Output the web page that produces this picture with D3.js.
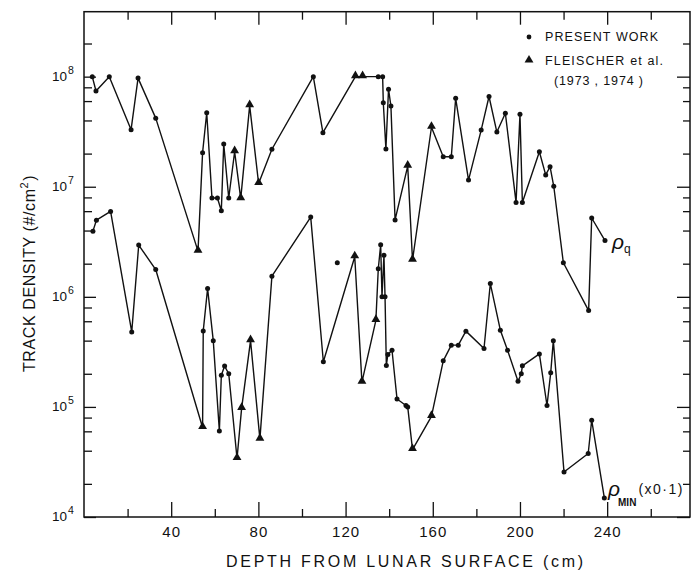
<!DOCTYPE html>
<html>
<head>
<meta charset="utf-8">
<script src="https://cdn.jsdelivr.net/npm/d3@7"></script>
<style>
  html, body { margin: 0; padding: 0; background: #fff; }
  svg { display: block; }
  text { font-family: "Liberation Sans", Arial, sans-serif; fill: #111; }
</style>
</head>
<body>
<svg id="chart" width="693" height="577"></svg>
<script>
// ---------- DATA ----------
// Upper series: rho_q
const depthQ = [3.8, 5.5, 11.6, 21.6, 24.8, 32.9, 52.3, 54.4, 56.3, 58.7, 61.2, 63.0, 64.1, 66.4, 69.1, 71.9, 76.0, 80.1, 86.2,
  105.2, 109.6, 124.5, 127.8, 135.0, 137.0, 137.3, 138.5, 139.7, 140.8, 142.7, 148.5, 150.7, 159.4, 164.8, 168.5, 170.5,
  176.4, 182.2, 185.8, 189.4, 193.3, 198.2, 200.0, 201.1, 208.9, 211.8, 213.8, 215.5, 219.9, 231.5, 232.9, 239.0];
const rhoQ = [1.0e8, 7.4e7, 1.0e8, 3.3e7, 9.7e7, 4.2e7, 2.6e6, 2.04e7, 4.7e7, 7.9e6, 7.9e6, 6.05e6, 2.44e7, 7.9e6, 2.08e7, 7.8e6, 5.45e7, 1.07e7, 2.19e7,
  1.0e8, 3.1e7, 1.0e8, 1.0e8, 1.0e8, 1.0e8, 5.8e7, 2.2e7, 7.7e7, 5.4e7, 5.0e6, 1.54e7, 2.15e6, 3.47e7, 1.87e7, 1.87e7, 6.35e7,
  1.15e7, 3.27e7, 6.6e7, 3.14e7, 4.65e7, 7.2e6, 4.55e7, 7.2e6, 2.08e7, 1.28e7, 1.52e7, 1.01e7, 2.04e6, 7.5e5, 5.2e6, 3.24e6];
// source: "P" = present work (dot), "F" = Fleischer et al. (triangle)
const srcQ = ["P","P","P","P","P","P","F","P","P","P","P","P","P","P","F","F","F","F","P",
  "P","P","F","F","P","P","P","P","P","P","P","F","F","F","P","P","P",
  "P","P","P","P","P","P","P","P","P","P","P","P","P","P","P","P"];

// Lower series: rho_MIN (x0.1)
const depthMin = [4.1, 5.7, 12.2, 21.9, 25.1, 32.9, 54.4, 54.7, 56.7, 59.3, 62.1, 63.0, 64.5, 66.4, 70.2, 72.3, 76.4, 80.7, 86.2,
  104.0, 109.8, 124.2, 127.5, 133.9, 135.0, 136.1, 136.7, 137.6, 138.1, 138.7, 139.4, 141.3, 143.6, 147.7, 148.5, 150.7, 159.4,
  164.8, 168.5, 171.7, 175.2, 183.5, 186.4, 191.0, 194.3, 199.1, 200.6, 201.1, 208.9, 212.4, 214.1, 215.3, 220.2, 231.3, 232.9, 238.7];
const rhoMin = [3.95e6, 4.97e6, 5.97e6, 4.8e5, 2.95e6, 1.77e6, 6.5e4, 4.9e5, 1.19e6, 4.0e5, 6.05e4, 1.94e5, 2.35e5, 2.0e5, 3.4e4, 9.7e4, 4.0e5, 5.1e4, 1.54e6,
  5.3e6, 2.57e5, 2.31e6, 1.68e5, 6.1e5, 1.8e6, 2.97e6, 1.0e6, 2.38e6, 1.0e6, 2.38e5, 3.0e5, 3.27e5, 1.18e5, 1.03e5, 1.0e5, 4.1e4, 8.2e4,
  2.62e5, 3.64e5, 3.64e5, 4.88e5, 3.39e5, 1.32e6, 4.98e5, 3.27e5, 1.71e5, 2.0e5, 2.36e5, 3.03e5, 1.03e5, 2.04e5, 4.0e5, 2.56e4, 3.77e4, 7.57e4, 1.49e4];
const srcMin = ["P","P","P","P","P","P","F","P","P","P","P","P","P","P","F","F","F","F","P",
  "P","P","F","F","F","P","P","P","P","P","P","P","P","P","P","P","F","F",
  "P","P","P","P","P","P","P","P","P","P","P","P","P","P","P","P","P","P","P"];

// isolated (unconnected) point
const isoDepth = [116.2];
const isoRho = [2.04e6];

// axis ticks
const xMajorTicks = [40, 80, 120, 160, 200, 240];
const xMinorTicks = [20, 60, 100, 140, 180, 220, 260];
const yDecades = [1e4, 1e5, 1e6, 1e7, 1e8];
const yExponents = ["4", "5", "6", "7", "8"];
const yMinorTicks = [2e4,4e4,6e4,8e4, 2e5,4e5,6e5,8e5, 2e6,4e6,6e6,8e6, 2e7,4e7,6e7,8e7, 2e8];

const legendLabels = ["PRESENT WORK", "FLEISCHER et al.", "(1973 , 1974 )"];

(function () {
// ---------- SCALES ----------
const svg = d3.select("#chart");
const pL = 84, pR = 690, pT = 11.7, pB = 517;
const x = d3.scaleLinear().domain([0, 278]).range([pL, pR]);
const y = d3.scaleLog().domain([1e4, Math.pow(10, 8.59)]).range([pB, pT]);

// ---------- AXES ----------
function styleAxis(g) {
  g.select(".domain").remove();
  g.selectAll(".tick line").attr("stroke", "#111").attr("stroke-width", 1.3);
}
// bottom
svg.append("g").attr("transform", `translate(0,${pB})`)
  .call(d3.axisBottom(x).tickValues(xMajorTicks).tickSizeInner(-15).tickSizeOuter(0).tickFormat(d3.format("d")))
  .call(styleAxis)
  .call(g => g.selectAll("text").attr("y", 20).attr("dy", 0)
     .style("font-size", "15px").style("letter-spacing", "1px").attr("fill", "#111")
     .style("font-family", "'Liberation Sans', Arial, sans-serif"));
svg.append("g").attr("transform", `translate(0,${pB})`)
  .call(d3.axisBottom(x).tickValues(xMinorTicks).tickSizeInner(-8).tickSizeOuter(0).tickFormat(""))
  .call(styleAxis);
// top
svg.append("g").attr("transform", `translate(0,${pT})`)
  .call(d3.axisTop(x).tickValues(xMajorTicks).tickSizeInner(-13).tickSizeOuter(0).tickFormat(""))
  .call(styleAxis);
svg.append("g").attr("transform", `translate(0,${pT})`)
  .call(d3.axisTop(x).tickValues(xMinorTicks).tickSizeInner(-8).tickSizeOuter(0).tickFormat(""))
  .call(styleAxis);
// left
svg.append("g").attr("transform", `translate(${pL},0)`)
  .call(d3.axisLeft(y).tickValues(yDecades).tickSizeInner(-12).tickSizeOuter(0).tickFormat(""))
  .call(styleAxis);
svg.append("g").attr("transform", `translate(${pL},0)`)
  .call(d3.axisLeft(y).tickValues(yMinorTicks).tickSizeInner(-8).tickSizeOuter(0).tickFormat(""))
  .call(styleAxis);
// right
svg.append("g").attr("transform", `translate(${pR},0)`)
  .call(d3.axisRight(y).tickValues(yDecades).tickSizeInner(-13).tickSizeOuter(0).tickFormat(""))
  .call(styleAxis);
svg.append("g").attr("transform", `translate(${pR},0)`)
  .call(d3.axisRight(y).tickValues(yMinorTicks).tickSizeInner(-7).tickSizeOuter(0).tickFormat(""))
  .call(styleAxis);

// frame
svg.append("rect").attr("x", pL).attr("y", pT).attr("width", pR - pL).attr("height", pB - pT)
  .attr("fill", "none").attr("stroke", "#111").attr("stroke-width", 1.5);

// y tick labels 10^n
yDecades.forEach((v, i) => {
  const t = svg.append("text").attr("x", 52).attr("y", y(v) + 4);
  t.append("tspan").text("10").style("font-size", "13.5px");
  t.append("tspan").text(yExponents[i]).attr("dy", -7).attr("dx", 1).style("font-size", "10.5px");
});

// axis titles
svg.append("text").attr("x", 226).attr("y", 567)
  .attr("textLength", 357).attr("lengthAdjust", "spacing")
  .style("font-size", "16px").text("DEPTH FROM LUNAR SURFACE (cm)");

const yt = svg.append("text").attr("transform", "translate(35,372) rotate(-90)")
  .attr("x", 0).attr("y", 0).style("font-size", "16px").style("letter-spacing", "0.6px");
yt.append("tspan").text("TRACK DENSITY (#/cm");
yt.append("tspan").text("2").attr("dy", -7).style("font-size", "11px");
yt.append("tspan").text(")").attr("dy", 7).attr("dx", 1);

// ---------- SERIES ----------
const line = d3.line().x(d => x(d[0])).y(d => y(d[1]));
const qData = depthQ.map((d, i) => [d, rhoQ[i], srcQ[i]]);
const mData = depthMin.map((d, i) => [d, rhoMin[i], srcMin[i]]);
const isoData = isoDepth.map((d, i) => [d, isoRho[i], "P"]);

[qData, mData].forEach(data => {
  svg.append("path").datum(data).attr("d", line)
    .attr("fill", "none").attr("stroke", "#111").attr("stroke-width", 1.4).attr("stroke-linejoin", "round");
});

const tri = d3.symbol().type(d3.symbolTriangle).size(34);
function drawMarks(data) {
  const g = svg.append("g");
  g.selectAll("circle").data(data.filter(d => d[2] === "P")).join("circle")
    .attr("cx", d => x(d[0])).attr("cy", d => y(d[1])).attr("r", 2.5).attr("fill", "#111");
  g.selectAll("path").data(data.filter(d => d[2] === "F")).join("path")
    .attr("d", tri).attr("transform", d => `translate(${x(d[0])},${y(d[1]) - 1})`).attr("fill", "#111");
}
drawMarks(qData);
drawMarks(mData);
drawMarks(isoData);

// ---------- SERIES LABELS ----------
const lq = svg.append("text").attr("x", 612).attr("y", 249);
lq.append("tspan").text("ρ").style("font-size", "21px").style("font-style", "italic");
lq.append("tspan").text("q").attr("dy", 4).style("font-size", "12px");

const lm = svg.append("text").attr("x", 608).attr("y", 496);
lm.append("tspan").text("ρ").style("font-size", "21px").style("font-style", "italic");
lm.append("tspan").text("MIN").attr("dy", 10).attr("dx", -2).style("font-size", "10px").style("font-weight", "bold");
lm.append("tspan").text("(x0·1)").attr("dy", -12).attr("dx", 2).style("font-size", "14px").style("letter-spacing", "1.5px");

// ---------- LEGEND ----------
svg.append("circle").attr("cx", 529).attr("cy", 37).attr("r", 2.4).attr("fill", "#111");
svg.append("path").attr("d", tri).attr("transform", "translate(529,60)").attr("fill", "#111");
svg.append("text").attr("x", 545).attr("y", 41).attr("textLength", 113).attr("lengthAdjust", "spacing")
  .style("font-size", "12.5px").text(legendLabels[0]);
svg.append("text").attr("x", 545).attr("y", 65).attr("textLength", 118).attr("lengthAdjust", "spacing")
  .style("font-size", "12.5px").text(legendLabels[1]);
svg.append("text").attr("x", 554).attr("y", 85).attr("textLength", 89).attr("lengthAdjust", "spacing")
  .style("font-size", "12.5px").text(legendLabels[2]);
})();
</script>
</body>
</html>
